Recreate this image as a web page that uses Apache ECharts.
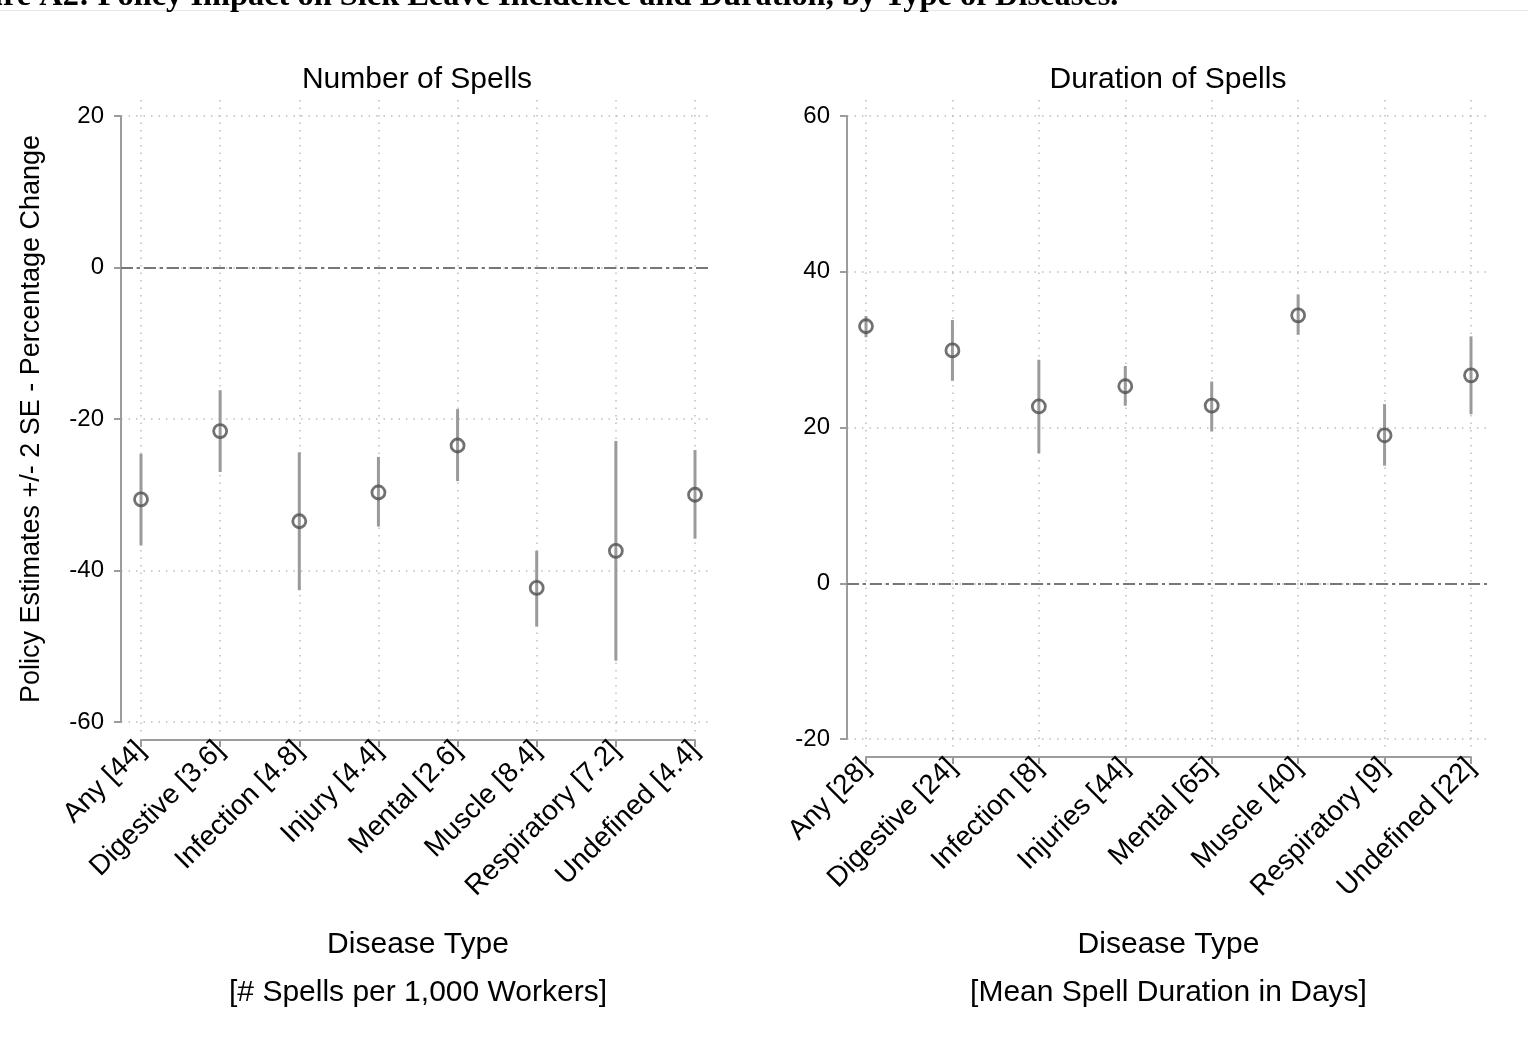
<!DOCTYPE html>
<html>
<head>
<meta charset="utf-8">
<script src="https://cdn.jsdelivr.net/npm/echarts@6/dist/echarts.min.js"></script>
<style>
html,body{margin:0;padding:0;background:#fff;}
#chart{width:1528px;height:1052px;}
</style>
</head>
<body>
<div id="chart"></div>
<script>
// ---- data ----
const figureTitle = 'Figure A2: Policy Impact on Sick Leave Incidence and Duration, by Type of Diseases.';
const panelTitles = ['Number of Spells', 'Duration of Spells'];
const yAxisTitle = 'Policy Estimates +/- 2 SE - Percentage Change';
const xAxisTitles = ['Disease Type\n[# Spells per 1,000 Workers]', 'Disease Type\n[Mean Spell Duration in Days]'];

const catsSpells = ['Any [44]', 'Digestive [3.6]', 'Infection [4.8]', 'Injury [4.4]', 'Mental [2.6]', 'Muscle [8.4]', 'Respiratory [7.2]', 'Undefined [4.4]'];
const estSpells = [-30.6, -21.6, -33.5, -29.7, -23.5, -42.3, -37.4, -30.0];
const loSpells  = [-36.7, -27.0, -42.6, -34.2, -28.2, -47.4, -51.9, -35.8];
const hiSpells  = [-24.6, -16.2, -24.4, -25.0, -18.7, -37.4, -22.9, -24.1];
const ticksSpells = [-60, -40, -20, 0, 20];

const catsDur = ['Any [28]', 'Digestive [24]', 'Infection [8]', 'Injuries [44]', 'Mental [65]', 'Muscle [40]', 'Respiratory [9]', 'Undefined [22]'];
const estDur = [33.0, 29.9, 22.7, 25.3, 22.8, 34.4, 19.0, 26.7];
const loDur  = [31.6, 26.0, 16.7, 22.8, 19.5, 31.9, 15.1, 21.7];
const hiDur  = [34.3, 33.8, 28.7, 27.9, 25.9, 37.1, 23.0, 31.7];
const ticksDur = [-20, 0, 20, 40, 60];

// ---- styles ----
const FONT = 'Liberation Sans';
const AXIS_COL = '#9c9c9c';
const GRID_COL = '#bdbdbd';
const BAR_COL = '#9a9a9a';
const MARK_COL = '#4d4d4d';
const dotted = [1.5, 6];

function panel(idx, cats, est, lo, hi, ticks, geo) {
  const gA = idx * 2, gB = idx * 2 + 1;
  const grids = [
    {left: geo.axisLeft, top: geo.yTop, width: geo.axisRight - geo.axisLeft, height: geo.yBottom - geo.yTop},
    {left: geo.catLeft, top: geo.vTop, width: geo.catRight - geo.catLeft, height: geo.vBottom - geo.vTop}
  ];
  const step = (geo.catRight - geo.catLeft) / (cats.length - 1);
  const xAxes = [
    {gridIndex: gA, type: 'value', show: false,
     min: -(geo.catLeft - geo.axisLeft) / step,
     max: (cats.length - 1) + (geo.axisRight - geo.catRight) / step,
     splitLine: {show: false}},
    {gridIndex: gB, type: 'category', data: cats, boundaryGap: false, position: 'bottom',
     offset: geo.xOffset,
     axisLine: {show: true, onZero: false, lineStyle: {color: AXIS_COL, width: 2}},
     axisTick: {show: true, length: 7, alignWithLabel: true, lineStyle: {color: AXIS_COL, width: 2}},
     axisLabel: {rotate: 45, margin: 6, fontSize: 28, color: '#000', fontFamily: FONT, interval: 0},
     splitLine: {show: true, lineStyle: {color: GRID_COL, type: dotted, width: 1.5}},
     name: geo.xName, nameLocation: 'middle', nameGap: geo.nameGap,
     nameTextStyle: {fontSize: 30, color: '#000', fontFamily: FONT, lineHeight: 48}}
  ];
  const yAxes = [
    {gridIndex: gA, type: 'value', min: ticks[0], max: ticks[ticks.length - 1], interval: ticks[1] - ticks[0],
     axisLine: {show: true, onZero: false, lineStyle: {color: AXIS_COL, width: 2}},
     axisTick: {show: true, length: 7, lineStyle: {color: AXIS_COL, width: 2}},
     axisLabel: {margin: 17, fontSize: 24, color: '#000', fontFamily: FONT},
     splitLine: {show: true, lineStyle: {color: GRID_COL, type: dotted, width: 1.5}},
     name: geo.yName || '', nameLocation: 'middle', nameGap: 76,
     nameTextStyle: {fontSize: 27, color: '#000', fontFamily: FONT}},
    {gridIndex: gB, type: 'value', show: false, min: 0, max: 1, splitLine: {show: false}}
  ];
  const xi = idx * 2, yi = idx * 2;
  const series = [
    {type: 'custom', xAxisIndex: xi, yAxisIndex: yi, z: 2, silent: true,
     data: cats.map((c, i) => [i, lo[i], hi[i]]),
     encode: {x: 0, y: [1, 2]},
     renderItem: function (params, api) {
       const x = api.value(0);
       const p1 = api.coord([x, api.value(1)]);
       const p2 = api.coord([x, api.value(2)]);
       return {type: 'line', shape: {x1: p1[0], y1: p1[1], x2: p2[0], y2: p2[1]},
               style: {stroke: BAR_COL, lineWidth: 3}};
     }},
    {type: 'scatter', xAxisIndex: xi, yAxisIndex: yi, z: 3, silent: true,
     symbol: 'circle', symbolSize: 13,
     itemStyle: {color: 'rgba(0,0,0,0)', borderColor: MARK_COL, borderWidth: 2.8},
     data: cats.map((c, i) => [i, est[i]]),
     markLine: {silent: true, symbol: 'none', label: {show: false},
       lineStyle: {color: '#777777', width: 2, type: [12, 4, 3, 4]},
       data: [{yAxis: 0}]}}
  ];
  return {grids, xAxes, yAxes, series};
}

const left = panel(0, catsSpells, estSpells, loSpells, hiSpells, ticksSpells, {
  axisLeft: 121, axisRight: 710, yTop: 116, yBottom: 722,
  catLeft: 141, catRight: 695, vTop: 100, vBottom: 732, xOffset: 8,
  nameGap: 181, xName: xAxisTitles[0], yName: yAxisTitle
});
const right = panel(1, catsDur, estDur, loDur, hiDur, ticksDur, {
  axisLeft: 847, axisRight: 1488, yTop: 116, yBottom: 739,
  catLeft: 866, catRight: 1471, vTop: 100, vBottom: 748, xOffset: 9,
  nameGap: 164, xName: xAxisTitles[1]
});

const option = {
  backgroundColor: '#fff',
  animation: false,
  title: [
    {text: figureTitle, left: -60, top: -19, padding: 0,
     textStyle: {fontFamily: 'Liberation Serif', fontWeight: 'bold', fontSize: 32.4, color: '#000'}},
    {text: panelTitles[0], left: 417, top: 65, padding: 0, textAlign: 'center',
     textStyle: {fontFamily: FONT, fontWeight: 'normal', fontSize: 30, color: '#000'}},
    {text: panelTitles[1], left: 1168, top: 65, padding: 0, textAlign: 'center',
     textStyle: {fontFamily: FONT, fontWeight: 'normal', fontSize: 30, color: '#000'}}
  ],
  graphic: [
    {type: 'rect', left: 0, top: 10, shape: {width: 1528, height: 1}, style: {fill: '#e2e7e7'}, silent: true}
  ],
  grid: [...left.grids, ...right.grids],
  xAxis: [...left.xAxes, ...right.xAxes],
  yAxis: [...left.yAxes, ...right.yAxes],
  series: [...left.series, ...right.series]
};

const chart = echarts.init(document.getElementById('chart'), null, {renderer: 'canvas'});
chart.setOption(option);
</script>
</body>
</html>
